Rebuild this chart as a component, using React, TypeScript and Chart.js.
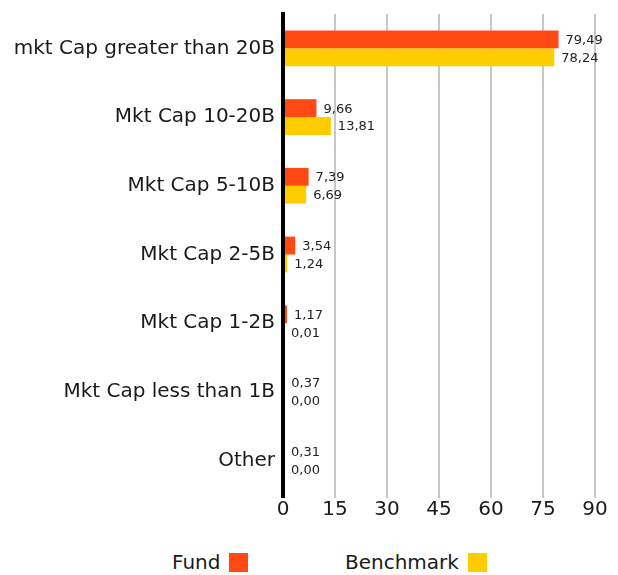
import React, { useEffect, useRef } from "react";
import { Chart, registerables } from "chart.js";

Chart.register(...registerables);

const categories = [
  "mkt Cap greater than 20B",
  "Mkt Cap 10-20B",
  "Mkt Cap 5-10B",
  "Mkt Cap 2-5B",
  "Mkt Cap 1-2B",
  "Mkt Cap less than 1B",
  "Other",
];
const fundValues = [79.49, 9.66, 7.39, 3.54, 1.17, 0.37, 0.31];
const benchmarkValues = [78.24, 13.81, 6.69, 1.24, 0.01, 0.0, 0.0];
const seriesNames = ["Fund", "Benchmark"];
const seriesColors = ["#FF4A14", "#FFCC00"];
const xMin = 0;
const xMax = 90;
const xStep = 15;

const FONT = "'DejaVu Sans', sans-serif";

const valueLabels = {
  id: "valueLabels",
  afterDatasetsDraw(chart: any) {
    const ctx = chart.ctx;
    const area = chart.chartArea;
    const x0 = chart.scales.x.getPixelForValue(0);
    ctx.save();
    // zero axis line drawn over bars
    ctx.strokeStyle = "#000";
    ctx.lineWidth = 4;
    ctx.beginPath();
    ctx.moveTo(x0, area.top - 2);
    ctx.lineTo(x0, area.bottom + 3);
    ctx.stroke();

    ctx.font = `13px ${FONT}`;
    ctx.fillStyle = "#222";
    ctx.textAlign = "left";
    ctx.textBaseline = "middle";
    chart.data.datasets.forEach((ds: any, di: number) => {
      const meta = chart.getDatasetMeta(di);
      meta.data.forEach((bar: any, i: number) => {
        const v = ds.data[i] as number;
        const txt = v.toFixed(2).replace(".", ",");
        ctx.fillText(txt, Math.max(bar.x, x0 + 1) + 7, bar.y + 1);
      });
    });
    ctx.restore();
  },
};

export default function App() {
  const ref = useRef<HTMLCanvasElement>(null);
  useEffect(() => {
    if (!ref.current) return;
    const chart = new Chart(ref.current, {
      type: "bar",
      data: {
        labels: categories,
        datasets: [
          {
            label: seriesNames[0],
            data: fundValues,
            backgroundColor: seriesColors[0],
            borderWidth: 0,
            categoryPercentage: 0.52,
            barPercentage: 1,
          },
          {
            label: seriesNames[1],
            data: benchmarkValues,
            backgroundColor: seriesColors[1],
            borderWidth: 0,
            categoryPercentage: 0.52,
            barPercentage: 1,
          },
        ],
      },
      options: {
        indexAxis: "y",
        responsive: false,
        animation: false,
        layout: { padding: { top: 0, right: 23, left: 0, bottom: 0 } },
        plugins: {
          legend: { display: false },
          tooltip: { enabled: false },
        },
        scales: {
          x: {
            min: xMin,
            max: xMax,
            ticks: {
              stepSize: xStep,
              color: "#1a1a1a",
              font: { family: FONT, size: 20 },
              padding: 0,
            },
            grid: {
              color: (c: any) => (c.index === 0 ? "#000" : "#c8c8c8"),
              lineWidth: (c: any) => (c.index === 0 ? 4 : 2),
              tickLength: 3,
            },
            border: { display: false },
          },
          y: {
            afterFit: (scale: any) => {
              scale.width = 283;
              scale.paddingTop = 14;
              scale.paddingBottom = 0;
            },
            ticks: {
              color: "#1a1a1a",
              font: { family: FONT, size: 20 },
              padding: 8,
            },
            grid: { display: false, drawTicks: false },
            border: { display: false },
          },
        },
      },
      plugins: [valueLabels],
    });
    return () => chart.destroy();
  }, []);

  const legendStyle: React.CSSProperties = {
    position: "absolute",
    top: 552,
    height: 21,
    display: "flex",
    alignItems: "center",
    fontFamily: FONT,
    fontSize: 20,
    color: "#1a1a1a",
    lineHeight: "21px",
  };
  const box = (c: string): React.CSSProperties => ({
    display: "inline-block",
    width: 19,
    height: 19,
    background: c,
    marginLeft: 9,
  });

  return (
    <div style={{ position: "absolute", left: 0, top: 0, width: 618, height: 575, background: "#fff" }}>
      <canvas ref={ref} width={618} height={522} style={{ display: "block" }} />
      <div style={{ ...legendStyle, left: 172 }}>
        <span>{seriesNames[0]}</span>
        <span style={box(seriesColors[0])} />
      </div>
      <div style={{ ...legendStyle, left: 345 }}>
        <span>{seriesNames[1]}</span>
        <span style={box(seriesColors[1])} />
      </div>
    </div>
  );
}
